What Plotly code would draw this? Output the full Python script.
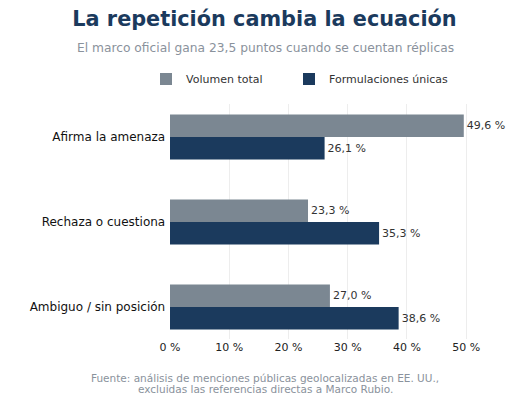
import plotly.graph_objects as go

# data
categories = ["Afirma la amenaza", "Rechaza o cuestiona", "Ambiguo / sin posición"]
volumen_total = [49.6, 23.3, 27.0]
formulaciones_unicas = [26.1, 35.3, 38.6]
x_ticks = [0, 10, 20, 30, 40, 50]
x_tick_labels = ["0 %", "10 %", "20 %", "30 %", "40 %", "50 %"]

GRAY = "#7b8792"
NAVY = "#1b3a5d"
FONT = "DejaVu Sans"

# the page puts the figure 8 px in from the top-left corner,
# so positions measured on screen get shifted back by that much
OFF = 8
W, H = 530, 415
L, R, T, B = 170 - OFF, 60, 104 - OFF, 84


def px_to_paper_x(px):
    return (px - OFF - L) / (W - L - R)


def px_to_paper_y(py):
    return (H - B - (py - OFF)) / (H - T - B)


fig = go.Figure()

fig.add_trace(go.Bar(
    y=categories, x=volumen_total, name="Volumen total",
    orientation="h", marker=dict(color=GRAY, line=dict(width=0)),
    texttemplate="%{x:.1f} %", textposition="outside", cliponaxis=False,
    textfont=dict(size=11, color="#333333"),
    legend="legend",
))
fig.add_trace(go.Bar(
    y=categories, x=formulaciones_unicas, name="Formulaciones únicas",
    orientation="h", marker=dict(color=NAVY, line=dict(width=0)),
    texttemplate="%{x:.1f} %", textposition="outside", cliponaxis=False,
    textfont=dict(size=11, color="#333333"),
    legend="legend2",
))

legend_style = dict(
    orientation="h", xref="paper", yref="paper", xanchor="left",
    y=px_to_paper_y(79), yanchor="middle",
    font=dict(size=11, color="#333333"), bgcolor="rgba(0,0,0,0)",
)

fig.update_layout(
    width=W, height=H,
    margin=dict(l=L, r=R, t=T, b=B, autoexpand=False),
    paper_bgcolor="white", plot_bgcolor="white",
    font=dict(family=FONT, size=11, color="#222222"),
    separators=",.",
    barmode="group", bargap=0.47, bargroupgap=0,
    title=dict(
        text="<b>La repetición cambia la ecuación</b>",
        xref="container", x=(264.5 - OFF) / W, xanchor="center",
        yref="container", y=1 - (19 - OFF) / H, yanchor="middle",
        font=dict(size=20.8, color=NAVY, family=FONT),
    ),
    legend=dict(x=px_to_paper_x(146), **legend_style),
    legend2=dict(x=px_to_paper_x(289), **legend_style),
    showlegend=True,
)

# grid sits over the bars, faint and see-through
fig.update_xaxes(
    range=[0, 52], tickvals=x_ticks, ticktext=x_tick_labels,
    showgrid=True, gridcolor="rgba(200,200,200,0.32)", gridwidth=1,
    layer="above traces",
    zeroline=False, showline=False, ticks="",
    tickfont=dict(size=11, color="#222222"),
)
fig.update_yaxes(
    categoryorder="array", categoryarray=categories,
    range=[2.376, -0.388], showgrid=False, zeroline=False,
    showline=False, ticks="", ticksuffix=" ",
    tickfont=dict(size=12, color="#111111"),
)

fig.add_annotation(
    text="El marco oficial gana 23,5 puntos cuando se cuentan réplicas",
    xref="paper", yref="paper", x=px_to_paper_x(265), y=px_to_paper_y(48),
    xanchor="center", yanchor="middle", showarrow=False,
    font=dict(size=12.25, color="#8a929c"),
)
fig.add_annotation(
    text="Fuente: análisis de menciones públicas geolocalizadas en EE. UU.,",
    xref="paper", yref="paper", x=px_to_paper_x(265), y=px_to_paper_y(378),
    xanchor="center", yanchor="middle", showarrow=False,
    font=dict(size=10.5, color="#8a929c"),
)
fig.add_annotation(
    text="excluidas las referencias directas a Marco Rubio.",
    xref="paper", yref="paper", x=px_to_paper_x(265), y=px_to_paper_y(388.5),
    xanchor="center", yanchor="middle", showarrow=False,
    font=dict(size=10.5, color="#8a929c"),
)

fig.write_html("out.html")
